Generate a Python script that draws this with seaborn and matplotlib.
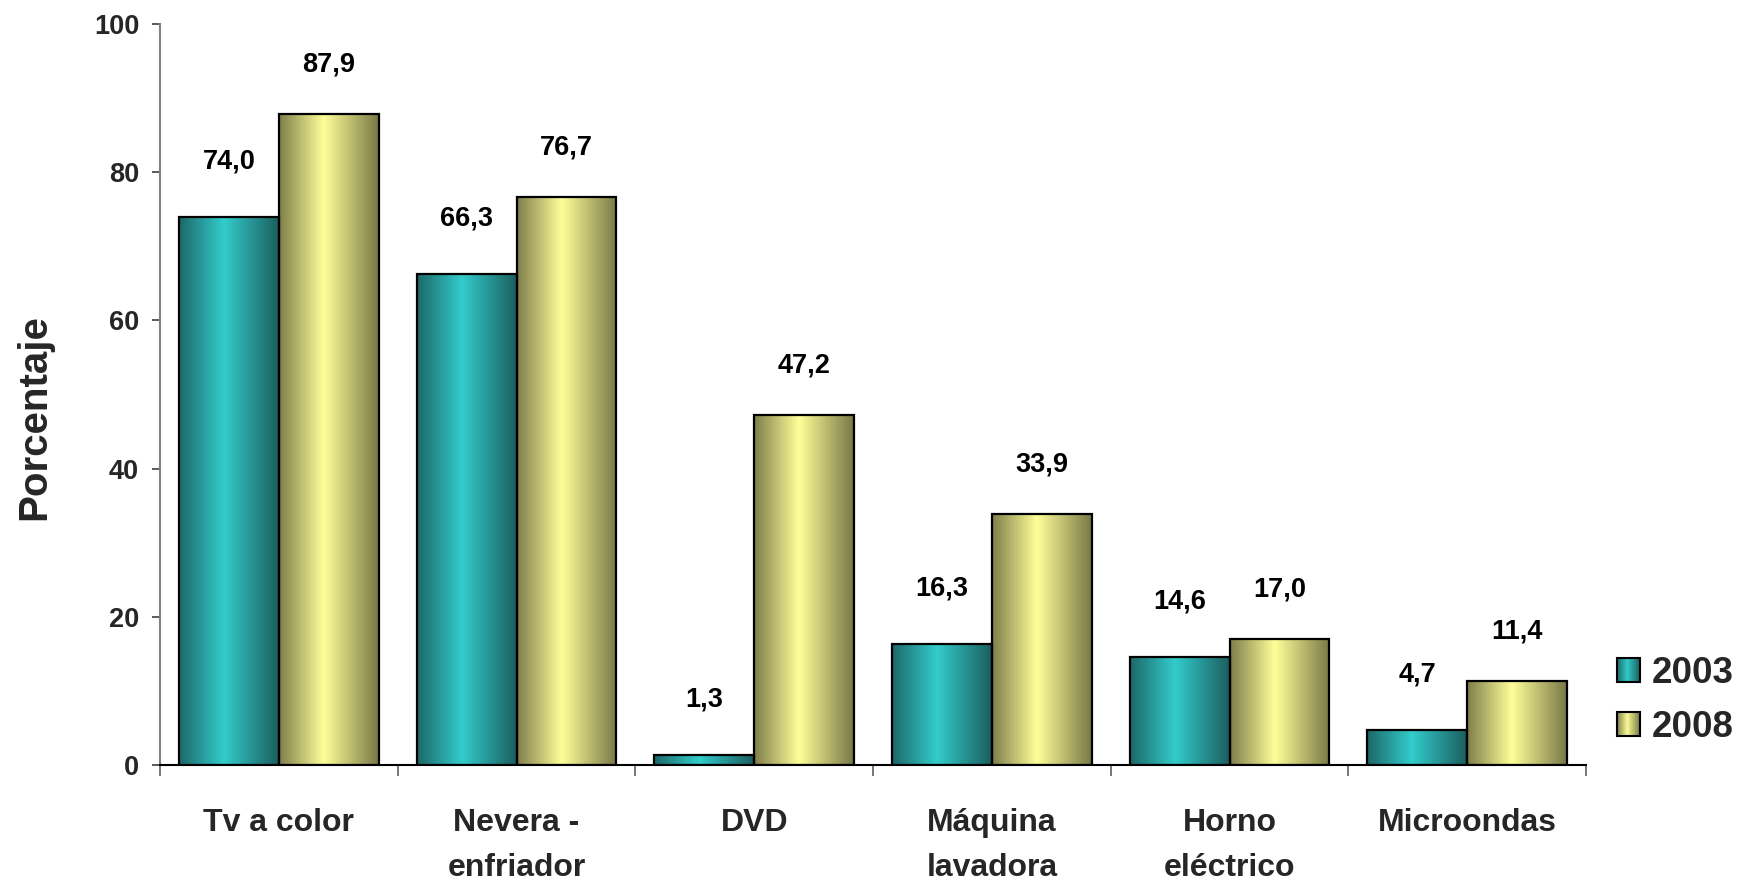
import numpy as np
import pandas as pd
import matplotlib
matplotlib.use("Agg")
import matplotlib.pyplot as plt
import seaborn as sns
from matplotlib import font_manager as fm
from matplotlib.colors import LinearSegmentedColormap
from matplotlib.legend_handler import HandlerBase
from matplotlib.patches import Rectangle

# ---- data ----
categories = ["Tv a color", "Nevera -\nenfriador", "DVD", "Máquina\nlavadora",
              "Horno\neléctrico", "Microondas"]
years = ["2003", "2008"]
values_2003 = [74.0, 66.3, 1.3, 16.3, 14.6, 4.7]
values_2008 = [87.9, 76.7, 47.2, 33.9, 17.0, 11.4]
y_ticks = [0, 20, 40, 60, 80, 100]

df = pd.DataFrame({
    "Equipo": categories * 2,
    "Año": [years[0]] * len(categories) + [years[1]] * len(categories),
    "Porcentaje": values_2003 + values_2008,
})

sns.set_theme(style="white")
plt.rcParams["font.family"] = ["Liberation Sans", "DejaVu Sans"]

names = {f.name for f in fm.fontManager.ttflist}
if "Liberation Sans Narrow" in names:
    cat_family, cat_size, cat_ls = ["Liberation Sans Narrow", "DejaVu Sans"], 27, 1.35
else:
    cat_family, cat_size, cat_ls = ["Liberation Sans", "DejaVu Sans"], 23, 1.65

fig = plt.figure(figsize=(17.38, 8.84), dpi=100)
ax = fig.add_axes([0.0921, 0.1346, 0.8205, 0.8382])

sns.barplot(data=df, x="Equipo", y="Porcentaje", hue="Año", hue_order=years,
            order=categories, palette=["#33cccc", "#ffff99"], saturation=1,
            width=0.84, edgecolor="black", linewidth=1.6, errorbar=None,
            legend=False, ax=ax)

cmap_teal = LinearSegmentedColormap.from_list(
    "teal", [(0, "#1d6868"), (0.45, "#33cccc"), (1, "#1b5e5e")])
cmap_yel = LinearSegmentedColormap.from_list(
    "yel", [(0, "#7e7e4b"), (0.45, "#ffff99"), (1, "#787846")])
cmaps = [cmap_teal, cmap_yel]

grad = np.linspace(0, 1, 256).reshape(1, -1)
for cont, cmap in zip(ax.containers, cmaps):
    for bar in cont:
        x0, y0 = bar.get_x(), bar.get_y()
        w, h = bar.get_width(), bar.get_height()
        ax.imshow(grad, extent=[x0, x0 + w, y0, y0 + h], aspect="auto",
                  cmap=cmap, interpolation="bilinear",
                  zorder=bar.get_zorder() - 0.01)
        bar.set_facecolor("none")

ax.set_xlim(-0.5, len(categories) - 0.5)
ax.set_ylim(0, 100)

# value labels
offsets = {"2003": 40, "2008": 35.5}
for cont, yr, vals in zip(ax.containers, years, [values_2003, values_2008]):
    for bar, v in zip(cont, vals):
        ax.annotate(f"{v:.1f}".replace(".", ","),
                    (bar.get_x() + bar.get_width() / 2, bar.get_height()),
                    xytext=(0, offsets[yr]), textcoords="offset points",
                    ha="center", va="center", fontsize=19.5, fontweight="bold",
                    color="black")

# axes styling
for s in ["top", "right"]:
    ax.spines[s].set_visible(False)
ax.spines["left"].set_color("#808080")
ax.spines["left"].set_linewidth(1.5)
ax.spines["bottom"].set_color("black")
ax.spines["bottom"].set_linewidth(1.5)

ax.set_yticks(y_ticks)
ax.set_yticklabels([str(t) for t in y_ticks], fontsize=19.5, fontweight="bold")
ax.tick_params(axis="y", left=True, length=6, width=1.2, color="#404040",
               pad=9, direction="out")

ax.set_xticks(range(len(categories)))
ax.set_xticklabels(categories, family=cat_family, fontsize=cat_size,
                   fontweight="bold", linespacing=cat_ls)
ax.tick_params(axis="x", which="major", length=0, pad=31)
ax.set_xticks(np.arange(-0.5, len(categories), 1), minor=True)
ax.tick_params(axis="x", which="minor", bottom=True, length=8, width=1.2,
               color="#606060", direction="out")

ax.set_xlabel("")
ax.set_ylabel("Porcentaje", fontsize=29, fontweight="bold")
ax.yaxis.set_label_coords(-0.075, 0.469)


class GradHandler(HandlerBase):
    def __init__(self, cmap):
        super().__init__()
        self.cmap = cmap

    def create_artists(self, legend, orig_handle, xdescent, ydescent,
                       width, height, fontsize, trans):
        n = 24
        x0, y0 = -xdescent, -ydescent
        arts = []
        for i in range(n):
            arts.append(Rectangle((x0 + i * width / n, y0), width / n, height,
                                  facecolor=self.cmap((i + 0.5) / n),
                                  edgecolor="none", transform=trans))
        arts.append(Rectangle((x0, y0), width, height, fill=False,
                              edgecolor="black", linewidth=1.5,
                              transform=trans))
        return arts


handles = [Rectangle((0, 0), 1, 1), Rectangle((0, 0), 1, 1)]
fig.legend(handles, years,
           handler_map={handles[0]: GradHandler(cmap_teal),
                        handles[1]: GradHandler(cmap_yel)},
           loc="center left", bbox_to_anchor=(0.9304, 0.2076),
           bbox_transform=fig.transFigure, frameon=False,
           prop={"weight": "bold", "size": 26.5},
           handlelength=0.62, handleheight=0.62, handletextpad=0.33,
           labelspacing=0.5, borderpad=0, borderaxespad=0)

fig.savefig("out.png", dpi=100)
